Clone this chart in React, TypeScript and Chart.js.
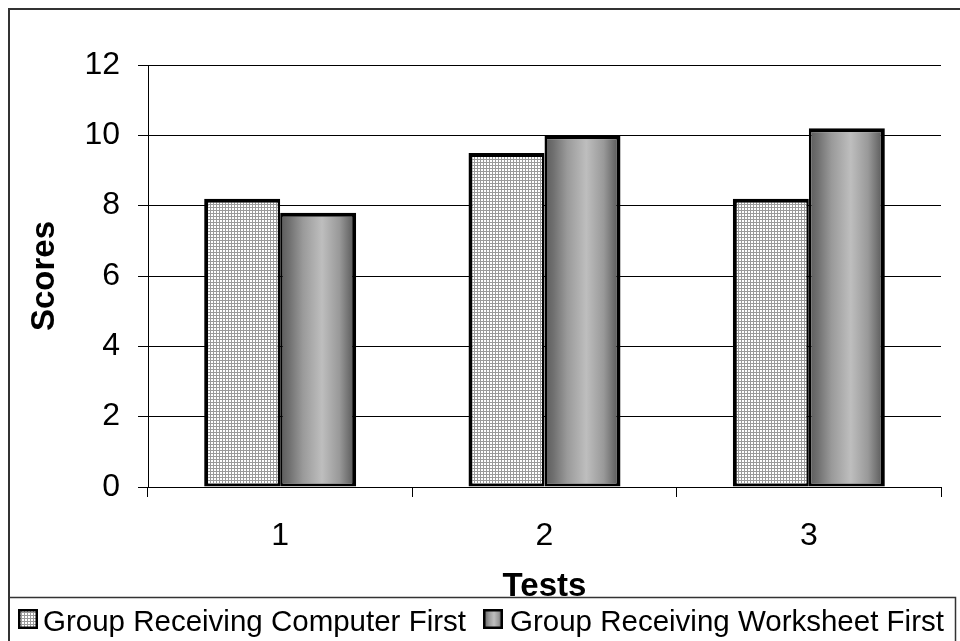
import React, { useEffect, useRef } from 'react';
import { Chart, registerables } from 'chart.js';

Chart.register(...registerables);

const categories = ['1', '2', '3'];
const computerFirst = [8.2, 9.5, 8.2];
const worksheetFirst = [7.8, 10.0, 10.2];
const seriesLabels = ['Group Receiving Computer First', 'Group Receiving Worksheet First'];
const yTickValues = [0, 2, 4, 6, 8, 10, 12];
const xTitle = 'Tests';
const yTitle = 'Scores';

const FONT = '"Liberation Sans", Arial, Helvetica, sans-serif';
const CAT_PCT = 0.575;

function makeGridPattern(ctx: CanvasRenderingContext2D): CanvasPattern | string {
  const c = document.createElement('canvas');
  c.width = 3;
  c.height = 3;
  const g = c.getContext('2d');
  if (!g) return '#ddd';
  g.fillStyle = '#ffffff';
  g.fillRect(0, 0, 3, 3);
  g.fillStyle = '#9a9a9a';
  g.fillRect(0, 0, 3, 1);
  g.fillRect(0, 0, 1, 3);
  return ctx.createPattern(c, 'repeat') || '#ddd';
}

function makeCylinder(ctx: CanvasRenderingContext2D, left: number, width: number) {
  const gr = ctx.createLinearGradient(left, 0, left + width, 0);
  gr.addColorStop(0, '#5a5a5a');
  gr.addColorStop(0.12, '#707070');
  gr.addColorStop(0.3, '#9a9a9a');
  gr.addColorStop(0.55, '#bebebe');
  gr.addColorStop(0.78, '#999999');
  gr.addColorStop(1, '#505050');
  return gr;
}

export default function App() {
  const ref = useRef<HTMLCanvasElement | null>(null);

  useEffect(() => {
    const canvas = ref.current;
    if (!canvas) return;
    const ctx = canvas.getContext('2d') as CanvasRenderingContext2D;
    const pattern = makeGridPattern(ctx);

    const framePlugin = {
      id: 'frameAndLegend',
      beforeDraw(chart: any) {
        const c = chart.ctx;
        c.save();
        c.fillStyle = '#ffffff';
        c.fillRect(0, 0, chart.width, chart.height);
        c.restore();
      },
      afterDraw(chart: any) {
        const c = chart.ctx as CanvasRenderingContext2D;
        c.save();
        c.strokeStyle = '#333333';
        c.lineWidth = 2;
        c.beginPath();
        c.moveTo(9, 641);
        c.lineTo(9, 9);
        c.lineTo(960, 9);
        c.stroke();
        c.lineWidth = 1.5;
        c.beginPath();
        c.moveTo(9, 597.5);
        c.lineTo(955.5, 597.5);
        c.lineTo(955.5, 641);
        c.stroke();
        const items = [
          { box: 18, text: 43, fill: pattern as any },
          { box: 483, text: 510, fill: makeCylinder(c, 483, 20) as any },
        ];
        c.font = `29.5px ${FONT}`;
        c.textBaseline = 'alphabetic';
        c.textAlign = 'left';
        items.forEach((it, i) => {
          c.fillStyle = it.fill;
          c.fillRect(it.box, 609, 20, 20);
          c.strokeStyle = '#000';
          c.lineWidth = 2.5;
          c.strokeRect(it.box + 1.25, 610.25, 17.5, 17.5);
          c.fillStyle = '#000';
          c.fillText(seriesLabels[i], it.text, 631);
        });
        c.restore();
      },
    };

    const chart = new Chart(canvas, {
      type: 'bar',
      data: {
        labels: categories,
        datasets: [
          {
            label: seriesLabels[0],
            data: computerFirst,
            backgroundColor: pattern as any,
            borderColor: '#000000',
            borderWidth: { top: 4, left: 4, right: 2.5, bottom: 3 },
            borderSkipped: false,
            categoryPercentage: CAT_PCT,
            barPercentage: 1,
          },
          {
            label: seriesLabels[1],
            data: worksheetFirst,
            backgroundColor: (c: any) => {
              const ch = c.chart;
              const xs = ch && ch.scales && ch.scales.x;
              if (!xs || typeof c.dataIndex !== 'number') return '#999999';
              const cw = xs.width / categories.length;
              const bw = (cw * CAT_PCT) / 2;
              const center = xs.getPixelForValue(c.dataIndex);
              if (!Number.isFinite(center) || !Number.isFinite(bw) || bw <= 0) return '#999999';
              return makeCylinder(ch.ctx, center, bw);
            },
            borderColor: '#000000',
            borderWidth: { top: 4, left: 2.5, right: 4, bottom: 3 },
            borderSkipped: false,
            categoryPercentage: CAT_PCT,
            barPercentage: 1,
          },
        ],
      },
      options: {
        responsive: false,
        animation: false,
        maintainAspectRatio: false,
        layout: { padding: { left: 10, top: 65, right: 19, bottom: 36 } },
        plugins: {
          legend: { display: false },
          tooltip: { enabled: false },
          title: { display: false },
        },
        scales: {
          x: {
            type: 'category',
            offset: true,
            afterFit: (s: any) => {
              s.height = 118;
            },
            grid: {
              display: true,
              offset: true,
              drawOnChartArea: false,
              drawTicks: true,
              tickLength: 10,
              color: '#000000',
              lineWidth: 1,
            },
            border: { display: true, color: '#000000', width: 1 },
            ticks: {
              color: '#000000',
              font: { family: FONT, size: 32 },
              padding: 20,
              maxRotation: 0,
            },
            title: {
              display: true,
              text: xTitle,
              color: '#000000',
              font: { family: FONT, size: 33, weight: 'bold' },
              padding: { top: 0, bottom: -2 },
            },
          },
          y: {
            min: 0,
            max: 12,
            afterFit: (s: any) => {
              s.width = 138;
            },
            afterBuildTicks: (s: any) => {
              s.ticks = yTickValues.map((v) => ({ value: v }));
            },
            grid: {
              display: true,
              drawOnChartArea: true,
              drawTicks: true,
              tickLength: 10,
              color: '#000000',
              lineWidth: 1,
            },
            border: { display: true, color: '#000000', width: 1 },
            ticks: {
              color: '#000000',
              font: { family: FONT, size: 32 },
              padding: 18,
            },
            title: {
              display: true,
              text: yTitle,
              color: '#000000',
              font: { family: FONT, size: 33, weight: 'bold' },
              padding: { top: 15, bottom: 0 },
            },
          },
        },
      },
      plugins: [framePlugin],
    } as any);

    return () => {
      chart.destroy();
    };
  }, []);

  return (
    <div style={{ position: 'fixed', left: 0, top: 0, width: 960, height: 641, background: '#fff' }}>
      <canvas ref={ref} width={960} height={641} style={{ display: 'block', width: 960, height: 641 }} />
    </div>
  );
}
